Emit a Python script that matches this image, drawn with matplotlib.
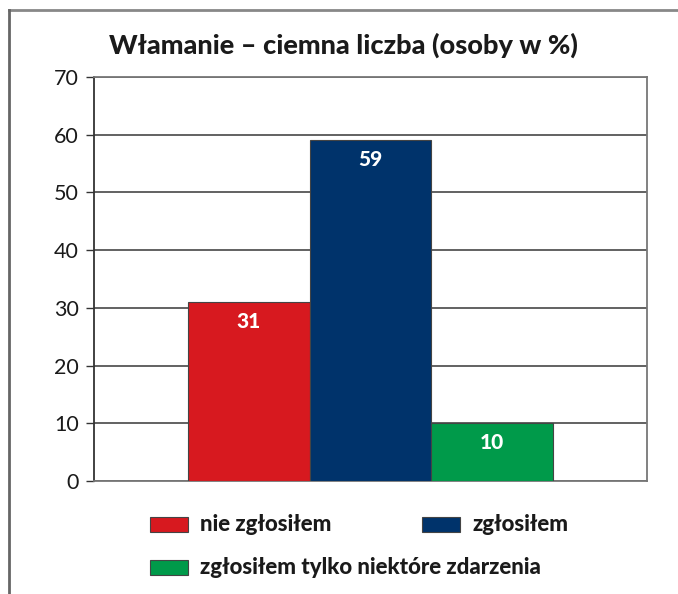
import matplotlib.pyplot as plt
from matplotlib.patches import Rectangle
from matplotlib.lines import Line2D

plt.rcParams['font.family'] = ['Lato', 'DejaVu Sans']

kategorie = ["nie zgłosiłem", "zgłosiłem", "zgłosiłem tylko niektóre zdarzenia"]
wartosci = [31, 59, 10]
kolory = ["#D7191F", "#00336B", "#009A4A"]
yticks = [0, 10, 20, 30, 40, 50, 60, 70]

fig = plt.figure(figsize=(6.78, 5.94), dpi=100)
ax = fig.add_axes([94/678, 1 - 481/594, (647 - 94)/678, (481 - 77)/594])

x = range(len(wartosci))
bars = ax.bar(x, wartosci, width=1.0, color=kolory, edgecolor="#444444", linewidth=0.8, zorder=3)

for b, v in zip(bars, wartosci):
    ax.annotate(str(v), (b.get_x() + b.get_width()/2, v), xytext=(0, -14),
                textcoords="offset points", ha="center", va="center",
                color="white", fontsize=15, fontweight="black", zorder=4)

ax.set_xlim(-1.27, 3.27)
ax.set_ylim(0, 70)
ax.set_yticks(yticks)
ax.set_xticks([])
ax.tick_params(axis="y", length=6, width=1, color="#333333", labelsize=15.5, pad=5, labelcolor="#1a1a1a")
ax.yaxis.grid(True, color="#555555", linewidth=1.3, zorder=0)
for s in ["top", "right", "bottom"]:
    ax.spines[s].set_color("#777777")
    ax.spines[s].set_linewidth(1.3)
ax.spines["left"].set_color("#333333")
ax.spines["left"].set_linewidth(1.3)

fig.text(0.506, 0.924, "Włamanie – ciemna liczba (osoby w %)", ha="center", va="center",
         fontsize=19.5, fontweight="black", color="#1a1a1a")

# legenda
pozycje = [(150, 517), (422, 517), (150, 560)]
for (px, py), kol, nazwa in zip(pozycje, kolory, kategorie):
    fig.add_artist(Rectangle((px/678, 1 - (py + 15)/594), 38/678, 15/594,
                             facecolor=kol, edgecolor="#444444", linewidth=0.8,
                             transform=fig.transFigure))
    fig.text((px + 50)/678, 1 - (py + 7.5)/594, nazwa, ha="left", va="center",
             fontsize=16, fontweight="black", color="#1a1a1a")

# ramka
fig.add_artist(Line2D([9/678, 1], [1 - 10/594] * 2, color="#888888", linewidth=2, transform=fig.transFigure))
fig.add_artist(Line2D([9/678] * 2, [0, 1 - 10/594], color="#666666", linewidth=2, transform=fig.transFigure))

fig.savefig("out.png", dpi=100)
